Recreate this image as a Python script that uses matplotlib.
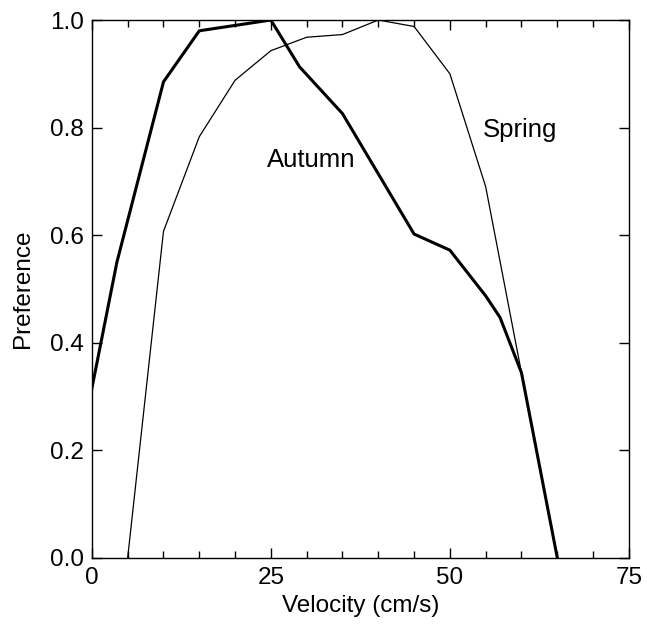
import matplotlib
matplotlib.use('Agg')
import matplotlib.pyplot as plt
from matplotlib.ticker import MultipleLocator

plt.rcParams['font.family'] = ['Liberation Sans', 'DejaVu Sans']
plt.rcParams['font.size'] = 17.5

# velocity preference curves (velocity in cm/s)
autumn_v = [0, 3.5, 10, 15, 25, 29, 35, 45, 50, 55, 57, 60, 65]
autumn_p = [0.315, 0.55, 0.885, 0.98, 1.0, 0.913, 0.826, 0.602, 0.572, 0.487, 0.447, 0.344, 0.0]

spring_v = [5, 10, 15, 20, 25, 30, 35, 40, 45, 50, 55, 60, 65]
spring_p = [0.0, 0.607, 0.783, 0.888, 0.943, 0.968, 0.973, 1.0, 0.988, 0.9, 0.69, 0.344, 0.0]

fig = plt.figure(figsize=(6.47, 6.26), dpi=100)
ax = fig.add_axes([0.142, 0.109, 0.830, 0.859])

ax.plot(spring_v, spring_p, color='black', lw=0.9)
ax.plot(autumn_v, autumn_p, color='black', lw=2.2)

ax.text(24.4, 0.74, 'Autumn', ha='left', va='center', fontsize=18.5)
ax.text(54.6, 0.795, 'Spring', ha='left', va='center', fontsize=18.5)

ax.set_xlim(0, 75)
ax.set_ylim(0, 1.0)
ax.xaxis.set_major_locator(MultipleLocator(25))
ax.xaxis.set_minor_locator(MultipleLocator(5))
ax.yaxis.set_major_locator(MultipleLocator(0.2))
ax.yaxis.set_major_formatter(plt.FormatStrFormatter('%.1f'))

ax.tick_params(which='both', direction='in', top=True, right=True, width=1)
ax.tick_params(which='major', length=7.5, labelsize=17.5)
ax.tick_params(axis='x', which='major', pad=7)
ax.tick_params(axis='y', which='major', pad=6)
ax.tick_params(which='minor', length=5)
for s in ax.spines.values():
    s.set_linewidth(1)

ax.set_xlabel('Velocity (cm/s)', labelpad=4)
ax.set_ylabel('Preference', labelpad=11)

fig.savefig('out.png', dpi=100)
